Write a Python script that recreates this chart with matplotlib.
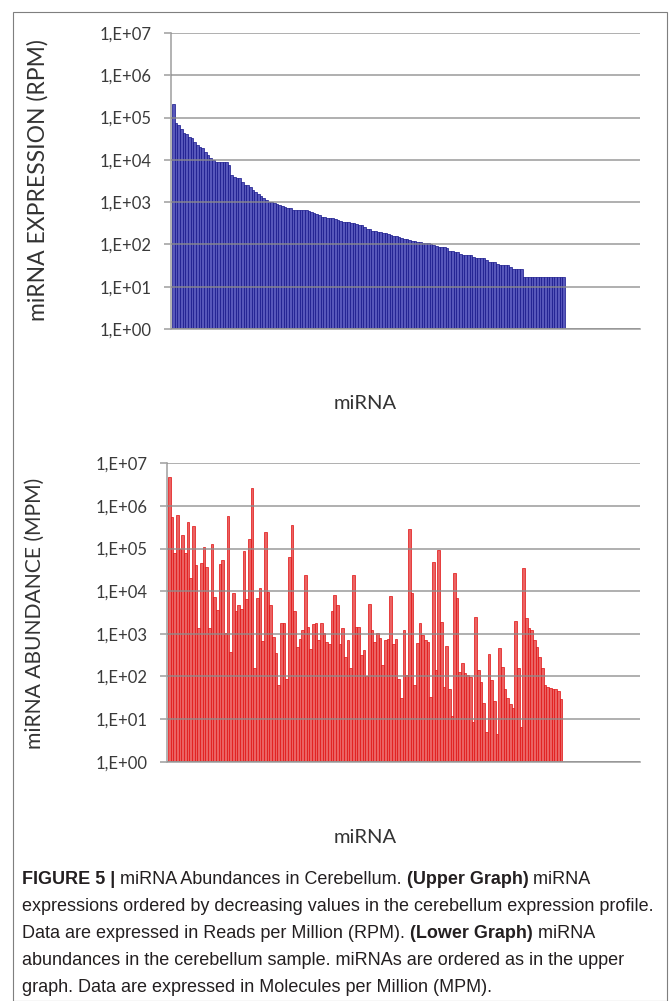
import matplotlib.pyplot as plt
import numpy as np
from matplotlib import font_manager
from matplotlib.transforms import IdentityTransform
from matplotlib.patches import Rectangle

# miRNA expression (RPM), ordered by decreasing value
rpm = [210000, 76000, 65000, 55000, 44000, 40000, 34000, 32000, 26000, 22000,
       20000, 19000, 15000, 12700, 10800, 9700, 8700, 8700, 8700, 8700,
       8700, 7400, 4300, 3850, 3640, 3640, 2930, 2490, 2490, 2230,
       1900, 1700, 1530, 1370, 1230, 1100, 990, 990, 940, 890,
       840, 800, 750, 710, 710, 640, 640, 640, 640, 640,
       640, 610, 575, 545, 515, 490, 440, 440, 415, 415,
       415, 393, 372, 352, 334, 334, 334, 316, 316, 300,
       284, 284, 255, 228, 228, 205, 205, 194, 194, 184,
       184, 174, 165, 156, 156, 148, 140, 133, 133, 126,
       119, 119, 113, 113, 107, 107, 107, 101, 96, 91,
       86, 86, 86, 81, 69, 69, 65, 65, 59, 56,
       56, 56, 56, 50, 47, 47, 47, 47, 42, 38,
       38, 38, 34, 32, 32, 32, 32, 29, 26, 26,
       26, 26, 17, 17, 17, 17, 17, 17, 17, 17,
       17, 17, 17, 17, 17, 17, 17, 17]

# miRNA abundance (MPM), same miRNA order
mpm = [4900000, 540000, 78000, 620000, 100000, 210000, 78000, 430000, 20000, 340000,
       41000, 1350, 45000, 110000, 36000, 1350, 130000, 7400, 3700, 44000,
       54000, 1020, 580000, 380, 8900, 3500, 4700, 3900, 89000, 6600,
       166000, 2600000, 155, 7100, 11700, 690, 250000, 9800, 4700, 850,
       350, 63, 1800, 1800, 85, 65000, 350000, 3500, 500, 740,
       1230, 24500, 1410, 430, 1740, 1820, 710, 1820, 1020, 650,
       590, 3470, 8100, 4700, 575, 1350, 290, 710, 162, 24000,
       1450, 1450, 316, 417, 102, 5100, 1260, 650, 1020, 780,
       186, 710, 740, 7800, 575, 740, 85, 32, 1230, 107,
       280000, 8900, 63, 620, 1820, 930, 710, 650, 33, 49000,
       141, 95000, 1900, 58, 525, 52, 12, 27000, 6800, 129,
       209, 123, 107, 95, 8.7, 2500, 141, 76, 24, 5,
       331, 81, 27, 4.5, 457, 170, 52, 32, 23, 18,
       2040, 162, 6.6, 35000, 2290, 1350, 1260, 710, 479, 288,
       155, 63, 58, 55, 52, 52, 46, 30]

tick_vals = [1e0, 1e1, 1e2, 1e3, 1e4, 1e5, 1e6, 1e7]
tick_labels = ['1,E+00', '1,E+01', '1,E+02', '1,E+03', '1,E+04', '1,E+05', '1,E+06', '1,E+07']

names = {f.name for f in font_manager.fontManager.ttflist}
cap_font = 'Liberation Sans Narrow' if 'Liberation Sans Narrow' in names else 'Liberation Sans'

plt.rcParams['font.family'] = ['Lato', 'DejaVu Sans']

W, H = 669, 1001
fig = plt.figure(figsize=(W / 100, H / 100), dpi=100)


def box(l, t, r, b):
    return [l / W, 1 - b / H, (r - l) / W, (b - t) / H]


def style_axis(ax, vals, face, edge, xlim, ylabel, ysize):
    x = np.arange(len(vals))
    ax.set_yscale('log')
    ax.bar(x, vals, width=1.0, color=face, edgecolor=edge, linewidth=0.5, zorder=2)
    ax.set_ylim(1, 1e7)
    ax.set_xlim(*xlim)
    ax.set_yticks(tick_vals)
    ax.set_yticklabels(tick_labels)
    ax.minorticks_off()
    ax.yaxis.grid(True, color='#8c8c8c', lw=1.3, alpha=0.75, zorder=3)
    ax.set_axisbelow(False)
    for s in ['top', 'right']:
        ax.spines[s].set_visible(False)
    for s in ['left', 'bottom']:
        ax.spines[s].set_color('#a6a6a6')
        ax.spines[s].set_linewidth(1.2)
    ax.tick_params(axis='y', length=5, width=1.2, color='#a6a6a6',
                   labelcolor='#3a3a3a', labelsize=12, pad=9)
    ax.tick_params(axis='x', bottom=False, labelbottom=False)
    ax.set_ylabel(ylabel, fontsize=ysize, color='#333333')
    ax.set_xlabel('miRNA', fontsize=14.5, color='#333333')


ax1 = fig.add_axes(box(171, 33, 640, 329))
style_axis(ax1, rpm, '#5757bb', '#14148a', (-0.9, 175.7), 'miRNA EXPRESSION (RPM)', 16.5)
ax1.yaxis.set_label_coords(-0.262, 0.503)
ax1.xaxis.set_label_coords(0.414, -0.223)

ax2 = fig.add_axes(box(167.3, 463.3, 640, 761.7))
style_axis(ax2, mpm, '#eb6262', '#e01010', (-0.76, 176.6), 'miRNA ABUNDANCE (MPM)', 15.2)
ax2.yaxis.set_label_coords(-0.259, 0.498)
ax2.xaxis.set_label_coords(0.418, -0.2255)

# frame around the figure panel
fig.add_artist(Rectangle((13 / W, 0), (667 - 13) / W, 1 - 12 / H, transform=fig.transFigure,
                         fill=False, edgecolor='#7f7f7f', lw=0.8))

# caption with bold fragments
caption = [
    [('FIGURE 5 | ', True), ('miRNA Abundances in Cerebellum. ', False),
     ('(Upper Graph)', True), (' miRNA', False)],
    [('expressions ordered by decreasing values in the cerebellum expression profile.', False)],
    [('Data are expressed in Reads per Million (RPM). ', False), ('(Lower Graph)', True),
     (' miRNA', False)],
    [('abundances in the cerebellum sample. miRNAs are ordered as in the upper', False)],
    [('graph. Data are expressed in Molecules per Million (MPM).', False)],
]
renderer = fig.canvas.get_renderer()
for k, line in enumerate(caption):
    xpos = 22
    ypos = H - (879 + 27.2 * k)
    for txt, bold in line:
        t = fig.text(xpos, ypos, txt, transform=IdentityTransform(), family=cap_font,
                     fontsize=13, fontweight='bold' if bold else 'normal',
                     color='#231f20', va='center', ha='left')
        xpos += t.get_window_extent(renderer).width

fig.savefig('out.png', dpi=100)
